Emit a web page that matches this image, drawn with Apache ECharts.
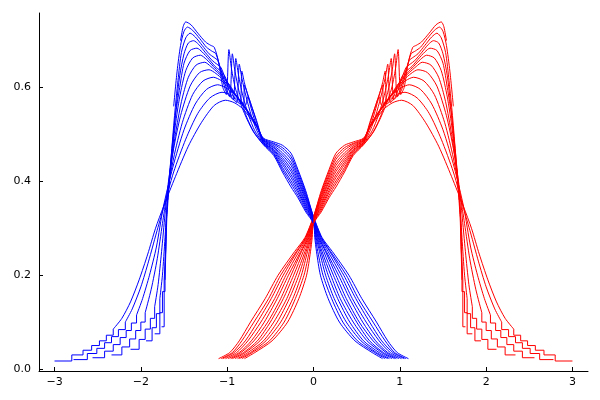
<!DOCTYPE html>
<html><head><meta charset="utf-8">
<script src="https://cdn.jsdelivr.net/npm/echarts@6/dist/echarts.min.js"></script>
<style>html,body{margin:0;padding:0;background:#fff}#c{width:600px;height:400px}</style>
</head><body><div id="c"></div>
<script>
const xTicks = [-3, -2, -1, 0, 1, 2, 3];
const yTicks = [0, 0.2, 0.4, 0.6];

const blueTails = [
  [[-3.0,0.017],[-2.8,0.03],[-2.67,0.04],[-2.57,0.05],[-2.48,0.06],[-2.4,0.072],[-2.32,0.085]],
  [[-2.78,0.02],[-2.62,0.033],[-2.51,0.044],[-2.42,0.056],[-2.34,0.069],[-2.26,0.084],[-2.18,0.1]],
  [[-2.56,0.024],[-2.42,0.038],[-2.32,0.052],[-2.24,0.067],[-2.17,0.082],[-2.11,0.098],[-2.05,0.115]],
  [[-2.34,0.03],[-2.22,0.047],[-2.13,0.064],[-2.06,0.082],[-2.0,0.1],[-1.95,0.12]],
  [[-2.12,0.042],[-2.02,0.063],[-1.95,0.085],[-1.89,0.108],[-1.84,0.133]],
  [[-1.94,0.06],[-1.87,0.088],[-1.82,0.118],[-1.78,0.15]],
  [[-1.84,0.075],[-1.78,0.12],[-1.75,0.165],[-1.72,0.21]],
  [[-1.76,0.09],[-1.73,0.19],[-1.71,0.26]],
  [[-1.72,0.19],[-1.7,0.32]],
  [], [], []
];

const blueBodies = [
  [[-2.32,0.085],[-2.22,0.108],[-2.12,0.143],[-2.02,0.19],[-1.92,0.245],[-1.83,0.3],[-1.74,0.345],[-1.6,0.41],[-1.45,0.475],[-1.3,0.525],[-1.15,0.562],[-1.02,0.573],[-0.92,0.568],[-0.82,0.555],[-0.72,0.532],[-0.64,0.512],[-0.58,0.492],[-0.46,0.484],[-0.36,0.477],[-0.26,0.46],[-0.18,0.425],[-0.09,0.38],[0,0.325],[0.1,0.28],[0.22,0.25],[0.41,0.2],[0.56,0.15],[0.73,0.1],[0.86,0.06],[0.97,0.035],[1.1,0.022]],
  [[-2.18,0.1],[-2.1,0.128],[-2.0,0.175],[-1.91,0.23],[-1.82,0.29],[-1.74,0.342],[-1.62,0.42],[-1.48,0.49],[-1.34,0.545],[-1.2,0.578],[-1.06,0.59],[-0.96,0.585],[-0.87,0.572],[-0.78,0.553],[-0.69,0.528],[-0.58,0.491],[-0.46,0.481],[-0.36,0.472],[-0.26,0.453],[-0.18,0.42],[-0.09,0.376],[0,0.324],[0.092,0.28],[0.2,0.25],[0.38,0.2],[0.52,0.15],[0.69,0.1],[0.83,0.06],[0.94,0.035],[1.07,0.022]],
  [[-2.05,0.115],[-1.98,0.15],[-1.9,0.2],[-1.82,0.26],[-1.74,0.345],[-1.63,0.43],[-1.5,0.51],[-1.37,0.565],[-1.24,0.596],[-1.11,0.606],[-1.02,0.6],[-0.93,0.588],[-0.84,0.57],[-0.76,0.55],[-0.67,0.523],[-0.58,0.489],[-0.46,0.479],[-0.36,0.467],[-0.26,0.447],[-0.18,0.414],[-0.09,0.372],[0,0.322],[0.085,0.28],[0.19,0.25],[0.35,0.2],[0.49,0.15],[0.65,0.1],[0.79,0.06],[0.92,0.035],[1.05,0.022]],
  [[-1.95,0.12],[-1.88,0.17],[-1.81,0.235],[-1.75,0.31],[-1.7,0.37],[-1.62,0.45],[-1.52,0.525],[-1.4,0.585],[-1.28,0.614],[-1.16,0.622],[-1.07,0.615],[-0.98,0.6],[-0.89,0.582],[-0.8,0.56],[-0.72,0.538],[-0.65,0.516],[-0.58,0.488],[-0.46,0.476],[-0.36,0.461],[-0.26,0.44],[-0.18,0.409],[-0.09,0.368],[0,0.321],[0.077,0.28],[0.17,0.25],[0.32,0.2],[0.45,0.15],[0.61,0.1],[0.76,0.06],[0.89,0.035],[1.02,0.022]],
  [[-1.84,0.133],[-1.8,0.18],[-1.76,0.25],[-1.72,0.33],[-1.68,0.4],[-1.62,0.47],[-1.54,0.54],[-1.43,0.603],[-1.32,0.632],[-1.21,0.638],[-1.13,0.63],[-1.05,0.617],[-0.97,0.6],[-0.89,0.58],[-0.81,0.56],[-0.73,0.538],[-0.65,0.515],[-0.58,0.487],[-0.46,0.473],[-0.36,0.456],[-0.26,0.434],[-0.18,0.403],[-0.09,0.364],[0,0.32],[0.069,0.28],[0.15,0.25],[0.29,0.2],[0.42,0.15],[0.57,0.1],[0.72,0.06],[0.86,0.035],[0.99,0.022]],
  [[-1.78,0.15],[-1.75,0.2],[-1.72,0.28],[-1.7,0.34],[-1.66,0.42],[-1.6,0.5],[-1.53,0.57],[-1.45,0.622],[-1.36,0.648],[-1.26,0.654],[-1.19,0.645],[-1.11,0.632],[-1.04,0.62],[-0.97,0.605],[-0.9,0.585],[-0.84,0.57],[-0.79,0.562],[-0.76,0.58],[-0.72,0.562],[-0.66,0.53],[-0.58,0.486],[-0.46,0.471],[-0.36,0.451],[-0.26,0.427],[-0.18,0.398],[-0.09,0.36],[0,0.318],[0.061,0.28],[0.14,0.25],[0.26,0.2],[0.38,0.15],[0.53,0.1],[0.69,0.06],[0.84,0.035],[0.96,0.022]],
  [[-1.72,0.21],[-1.71,0.3],[-1.69,0.36],[-1.65,0.44],[-1.6,0.52],[-1.55,0.58],[-1.48,0.636],[-1.4,0.663],[-1.31,0.669],[-1.24,0.66],[-1.16,0.645],[-1.09,0.632],[-1.03,0.62],[-0.96,0.6],[-0.9,0.582],[-0.85,0.572],[-0.81,0.565],[-0.8,0.605],[-0.76,0.585],[-0.7,0.55],[-0.64,0.515],[-0.58,0.484],[-0.46,0.468],[-0.36,0.446],[-0.26,0.421],[-0.18,0.392],[-0.09,0.355],[0,0.317],[0.054,0.28],[0.12,0.25],[0.23,0.2],[0.35,0.15],[0.5,0.1],[0.65,0.06],[0.81,0.035],[0.94,0.022]],
  [[-1.71,0.26],[-1.7,0.33],[-1.68,0.39],[-1.64,0.47],[-1.6,0.54],[-1.55,0.6],[-1.5,0.652],[-1.43,0.679],[-1.35,0.684],[-1.29,0.676],[-1.21,0.66],[-1.14,0.645],[-1.08,0.636],[-1.03,0.625],[-0.97,0.6],[-0.91,0.575],[-0.85,0.565],[-0.83,0.635],[-0.8,0.61],[-0.75,0.575],[-0.69,0.535],[-0.64,0.51],[-0.58,0.483],[-0.46,0.466],[-0.36,0.441],[-0.26,0.414],[-0.18,0.387],[-0.09,0.351],[0,0.315],[0.046,0.28],[0.1,0.25],[0.2,0.2],[0.31,0.15],[0.46,0.1],[0.62,0.06],[0.79,0.035],[0.91,0.022]],
  [[-1.7,0.32],[-1.67,0.4],[-1.63,0.48],[-1.59,0.56],[-1.55,0.625],[-1.5,0.672],[-1.45,0.695],[-1.39,0.7],[-1.33,0.692],[-1.25,0.674],[-1.17,0.657],[-1.12,0.65],[-1.07,0.642],[-1.01,0.612],[-0.95,0.58],[-0.89,0.568],[-0.86,0.65],[-0.83,0.62],[-0.78,0.58],[-0.72,0.54],[-0.66,0.51],[-0.58,0.482],[-0.46,0.463],[-0.36,0.436],[-0.26,0.408],[-0.18,0.381],[-0.09,0.347],[0,0.314],[0.038,0.28],[0.085,0.25],[0.17,0.2],[0.28,0.15],[0.42,0.1],[0.58,0.06],[0.76,0.035],[0.88,0.022]],
  [[-1.68,0.38],[-1.65,0.45],[-1.61,0.54],[-1.57,0.615],[-1.53,0.675],[-1.48,0.706],[-1.43,0.716],[-1.37,0.708],[-1.29,0.69],[-1.21,0.672],[-1.15,0.664],[-1.11,0.658],[-1.05,0.625],[-0.99,0.588],[-0.93,0.574],[-0.9,0.662],[-0.87,0.628],[-0.82,0.583],[-0.75,0.54],[-0.68,0.508],[-0.58,0.481],[-0.46,0.46],[-0.36,0.43],[-0.26,0.401],[-0.18,0.376],[-0.09,0.343],[0,0.313],[0.03,0.28],[0.07,0.25],[0.14,0.2],[0.24,0.15],[0.38,0.1],[0.55,0.06],[0.73,0.035],[0.86,0.022]],
  [[-1.62,0.56],[-1.58,0.635],[-1.54,0.69],[-1.5,0.72],[-1.46,0.729],[-1.4,0.722],[-1.32,0.705],[-1.24,0.686],[-1.18,0.678],[-1.13,0.672],[-1.08,0.64],[-1.02,0.595],[-0.97,0.58],[-0.94,0.672],[-0.91,0.635],[-0.86,0.59],[-0.78,0.54],[-0.69,0.505],[-0.58,0.479],[-0.46,0.458],[-0.36,0.425],[-0.26,0.395],[-0.18,0.37],[-0.09,0.339],[0,0.311],[0.023,0.28],[0.05,0.25],[0.11,0.2],[0.21,0.15],[0.34,0.1],[0.51,0.06],[0.71,0.035],[0.83,0.022]],
  [[-1.54,0.7],[-1.51,0.73],[-1.48,0.74],[-1.42,0.734],[-1.34,0.716],[-1.25,0.697],[-1.19,0.69],[-1.15,0.686],[-1.1,0.655],[-1.05,0.6],[-1.01,0.585],[-0.98,0.681],[-0.95,0.64],[-0.9,0.595],[-0.8,0.545],[-0.7,0.507],[-0.58,0.478],[-0.46,0.455],[-0.36,0.42],[-0.26,0.388],[-0.18,0.365],[-0.09,0.335],[0,0.31],[0.015,0.28],[0.035,0.25],[0.08,0.2],[0.17,0.15],[0.3,0.1],[0.48,0.06],[0.68,0.035],[0.8,0.022]]
];

const redTails = [
  [[3.0,0.017],[2.8,0.03],[2.67,0.04],[2.57,0.05],[2.48,0.06],[2.4,0.072],[2.32,0.085]],
  [[2.78,0.02],[2.62,0.033],[2.51,0.044],[2.42,0.056],[2.34,0.069],[2.26,0.084],[2.18,0.1]],
  [[2.56,0.024],[2.42,0.038],[2.32,0.052],[2.24,0.067],[2.17,0.082],[2.11,0.098],[2.05,0.115]],
  [[2.34,0.03],[2.22,0.047],[2.13,0.064],[2.06,0.082],[2.0,0.1],[1.95,0.12]],
  [[2.12,0.042],[2.02,0.063],[1.95,0.085],[1.89,0.108],[1.84,0.133]],
  [[1.94,0.06],[1.87,0.088],[1.82,0.118],[1.78,0.15]],
  [[1.84,0.075],[1.78,0.12],[1.75,0.165],[1.72,0.21]],
  [[1.76,0.09],[1.73,0.19],[1.71,0.26]],
  [[1.72,0.19],[1.7,0.32]],
  [], [], []
];

const redBodies = [
  [[2.32,0.085],[2.22,0.108],[2.12,0.143],[2.02,0.19],[1.92,0.245],[1.83,0.3],[1.74,0.345],[1.6,0.41],[1.45,0.475],[1.3,0.525],[1.15,0.562],[1.02,0.573],[0.92,0.568],[0.82,0.555],[0.72,0.532],[0.64,0.512],[0.58,0.492],[0.46,0.484],[0.36,0.477],[0.26,0.46],[0.18,0.425],[0.09,0.38],[0,0.325],[-0.1,0.28],[-0.22,0.25],[-0.41,0.2],[-0.56,0.15],[-0.73,0.1],[-0.86,0.06],[-0.97,0.035],[-1.1,0.022]],
  [[2.18,0.1],[2.1,0.128],[2.0,0.175],[1.91,0.23],[1.82,0.29],[1.74,0.342],[1.62,0.42],[1.48,0.49],[1.34,0.545],[1.2,0.578],[1.06,0.59],[0.96,0.585],[0.87,0.572],[0.78,0.553],[0.69,0.528],[0.58,0.491],[0.46,0.481],[0.36,0.472],[0.26,0.453],[0.18,0.42],[0.09,0.376],[0,0.324],[-0.092,0.28],[-0.2,0.25],[-0.38,0.2],[-0.52,0.15],[-0.69,0.1],[-0.83,0.06],[-0.94,0.035],[-1.07,0.022]],
  [[2.05,0.115],[1.98,0.15],[1.9,0.2],[1.82,0.26],[1.74,0.345],[1.63,0.43],[1.5,0.51],[1.37,0.565],[1.24,0.596],[1.11,0.606],[1.02,0.6],[0.93,0.588],[0.84,0.57],[0.76,0.55],[0.67,0.523],[0.58,0.489],[0.46,0.479],[0.36,0.467],[0.26,0.447],[0.18,0.414],[0.09,0.372],[0,0.322],[-0.085,0.28],[-0.19,0.25],[-0.35,0.2],[-0.49,0.15],[-0.65,0.1],[-0.79,0.06],[-0.92,0.035],[-1.05,0.022]],
  [[1.95,0.12],[1.88,0.17],[1.81,0.235],[1.75,0.31],[1.7,0.37],[1.62,0.45],[1.52,0.525],[1.4,0.585],[1.28,0.614],[1.16,0.622],[1.07,0.615],[0.98,0.6],[0.89,0.582],[0.8,0.56],[0.72,0.538],[0.65,0.516],[0.58,0.488],[0.46,0.476],[0.36,0.461],[0.26,0.44],[0.18,0.409],[0.09,0.368],[0,0.321],[-0.077,0.28],[-0.17,0.25],[-0.32,0.2],[-0.45,0.15],[-0.61,0.1],[-0.76,0.06],[-0.89,0.035],[-1.02,0.022]],
  [[1.84,0.133],[1.8,0.18],[1.76,0.25],[1.72,0.33],[1.68,0.4],[1.62,0.47],[1.54,0.54],[1.43,0.603],[1.32,0.632],[1.21,0.638],[1.13,0.63],[1.05,0.617],[0.97,0.6],[0.89,0.58],[0.81,0.56],[0.73,0.538],[0.65,0.515],[0.58,0.487],[0.46,0.473],[0.36,0.456],[0.26,0.434],[0.18,0.403],[0.09,0.364],[0,0.32],[-0.069,0.28],[-0.15,0.25],[-0.29,0.2],[-0.42,0.15],[-0.57,0.1],[-0.72,0.06],[-0.86,0.035],[-0.99,0.022]],
  [[1.78,0.15],[1.75,0.2],[1.72,0.28],[1.7,0.34],[1.66,0.42],[1.6,0.5],[1.53,0.57],[1.45,0.622],[1.36,0.648],[1.26,0.654],[1.19,0.645],[1.11,0.632],[1.04,0.62],[0.97,0.605],[0.9,0.585],[0.84,0.57],[0.79,0.562],[0.76,0.58],[0.72,0.562],[0.66,0.53],[0.58,0.486],[0.46,0.471],[0.36,0.451],[0.26,0.427],[0.18,0.398],[0.09,0.36],[0,0.318],[-0.061,0.28],[-0.14,0.25],[-0.26,0.2],[-0.38,0.15],[-0.53,0.1],[-0.69,0.06],[-0.84,0.035],[-0.96,0.022]],
  [[1.72,0.21],[1.71,0.3],[1.69,0.36],[1.65,0.44],[1.6,0.52],[1.55,0.58],[1.48,0.636],[1.4,0.663],[1.31,0.669],[1.24,0.66],[1.16,0.645],[1.09,0.632],[1.03,0.62],[0.96,0.6],[0.9,0.582],[0.85,0.572],[0.81,0.565],[0.8,0.605],[0.76,0.585],[0.7,0.55],[0.64,0.515],[0.58,0.484],[0.46,0.468],[0.36,0.446],[0.26,0.421],[0.18,0.392],[0.09,0.355],[0,0.317],[-0.054,0.28],[-0.12,0.25],[-0.23,0.2],[-0.35,0.15],[-0.5,0.1],[-0.65,0.06],[-0.81,0.035],[-0.94,0.022]],
  [[1.71,0.26],[1.7,0.33],[1.68,0.39],[1.64,0.47],[1.6,0.54],[1.55,0.6],[1.5,0.652],[1.43,0.679],[1.35,0.684],[1.29,0.676],[1.21,0.66],[1.14,0.645],[1.08,0.636],[1.03,0.625],[0.97,0.6],[0.91,0.575],[0.85,0.565],[0.83,0.635],[0.8,0.61],[0.75,0.575],[0.69,0.535],[0.64,0.51],[0.58,0.483],[0.46,0.466],[0.36,0.441],[0.26,0.414],[0.18,0.387],[0.09,0.351],[0,0.315],[-0.046,0.28],[-0.1,0.25],[-0.2,0.2],[-0.31,0.15],[-0.46,0.1],[-0.62,0.06],[-0.79,0.035],[-0.91,0.022]],
  [[1.7,0.32],[1.67,0.4],[1.63,0.48],[1.59,0.56],[1.55,0.625],[1.5,0.672],[1.45,0.695],[1.39,0.7],[1.33,0.692],[1.25,0.674],[1.17,0.657],[1.12,0.65],[1.07,0.642],[1.01,0.612],[0.95,0.58],[0.89,0.568],[0.86,0.65],[0.83,0.62],[0.78,0.58],[0.72,0.54],[0.66,0.51],[0.58,0.482],[0.46,0.463],[0.36,0.436],[0.26,0.408],[0.18,0.381],[0.09,0.347],[0,0.314],[-0.038,0.28],[-0.085,0.25],[-0.17,0.2],[-0.28,0.15],[-0.42,0.1],[-0.58,0.06],[-0.76,0.035],[-0.88,0.022]],
  [[1.68,0.38],[1.65,0.45],[1.61,0.54],[1.57,0.615],[1.53,0.675],[1.48,0.706],[1.43,0.716],[1.37,0.708],[1.29,0.69],[1.21,0.672],[1.15,0.664],[1.11,0.658],[1.05,0.625],[0.99,0.588],[0.93,0.574],[0.9,0.662],[0.87,0.628],[0.82,0.583],[0.75,0.54],[0.68,0.508],[0.58,0.481],[0.46,0.46],[0.36,0.43],[0.26,0.401],[0.18,0.376],[0.09,0.343],[0,0.313],[-0.03,0.28],[-0.07,0.25],[-0.14,0.2],[-0.24,0.15],[-0.38,0.1],[-0.55,0.06],[-0.73,0.035],[-0.86,0.022]],
  [[1.62,0.56],[1.58,0.635],[1.54,0.69],[1.5,0.72],[1.46,0.729],[1.4,0.722],[1.32,0.705],[1.24,0.686],[1.18,0.678],[1.13,0.672],[1.08,0.64],[1.02,0.595],[0.97,0.58],[0.94,0.672],[0.91,0.635],[0.86,0.59],[0.78,0.54],[0.69,0.505],[0.58,0.479],[0.46,0.458],[0.36,0.425],[0.26,0.395],[0.18,0.37],[0.09,0.339],[0,0.311],[-0.023,0.28],[-0.05,0.25],[-0.11,0.2],[-0.21,0.15],[-0.34,0.1],[-0.51,0.06],[-0.71,0.035],[-0.83,0.022]],
  [[1.54,0.7],[1.51,0.73],[1.48,0.74],[1.42,0.734],[1.34,0.716],[1.25,0.697],[1.19,0.69],[1.15,0.686],[1.1,0.655],[1.05,0.6],[1.01,0.585],[0.98,0.681],[0.95,0.64],[0.9,0.595],[0.8,0.545],[0.7,0.507],[0.58,0.478],[0.46,0.455],[0.36,0.42],[0.26,0.388],[0.18,0.365],[0.09,0.335],[0,0.31],[-0.015,0.28],[-0.035,0.25],[-0.08,0.2],[-0.17,0.15],[-0.3,0.1],[-0.48,0.06],[-0.68,0.035],[-0.8,0.022]]
];

const BLUE = '#0000ff', RED = '#ff0000';
function lineSeries(data, color, stepped) {
  return {
    type: 'line', data: data, showSymbol: false, symbol: 'none',
    step: stepped ? 'end' : false,
    smooth: stepped ? false : 0.25,
    lineStyle: { color: color, width: 1 },
    itemStyle: { color: color },
    emphasis: { disabled: true }, silent: true, animation: false
  };
}
const series = [];
for (let k = 0; k < blueBodies.length; k++) {
  if (blueTails[k].length) series.push(lineSeries(blueTails[k], BLUE, true));
  series.push(lineSeries(blueBodies[k], BLUE, false));
  if (redTails[k].length) series.push(lineSeries(redTails[k], RED, true));
  series.push(lineSeries(redBodies[k], RED, false));
}

const chart = echarts.init(document.getElementById('c'), null, { renderer: 'canvas' });
const labelFont = { fontFamily: 'DejaVu Sans', fontSize: 11, color: '#000' };
chart.setOption({
  animation: false,
  backgroundColor: '#fff',
  grid: { left: 39, right: 12, top: 13, bottom: 29, containLabel: false },
  xAxis: {
    type: 'value', min: -3.18, max: 3.18,
    axisLine: { show: true, onZero: false, lineStyle: { color: '#000', width: 1 } },
    axisTick: { show: true, inside: true, length: 4, customValues: xTicks, lineStyle: { color: '#000' } },
    axisLabel: Object.assign({ customValues: xTicks, margin: 6,
      formatter: v => (v < 0 ? '\u2212' + Math.abs(v) : String(v)) }, labelFont),
    splitLine: { show: false }
  },
  yAxis: {
    type: 'value', min: -0.0043, max: 0.759,
    axisLine: { show: true, onZero: false, lineStyle: { color: '#000', width: 1 } },
    axisTick: { show: true, inside: true, length: 4, customValues: yTicks, lineStyle: { color: '#000' } },
    axisLabel: Object.assign({ customValues: yTicks, margin: 8,
      formatter: v => v.toFixed(1) }, labelFont),
    splitLine: { show: false }
  },
  series: series
});
</script>
</body></html>
